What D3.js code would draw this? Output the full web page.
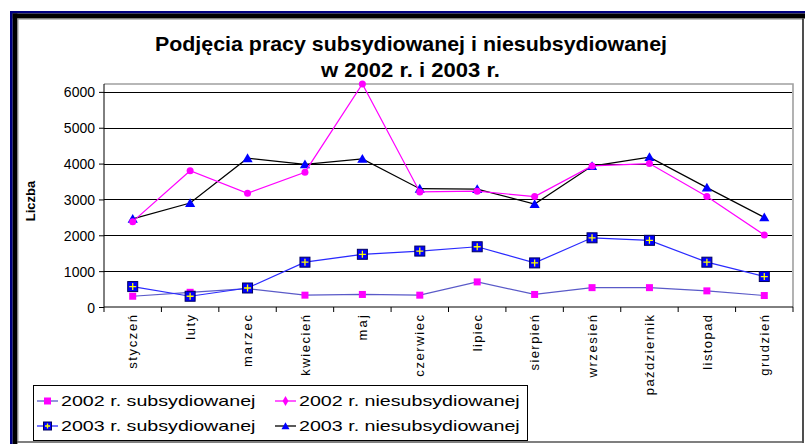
<!DOCTYPE html>
<html><head><meta charset="utf-8">
<script src="https://cdn.jsdelivr.net/npm/d3@7/dist/d3.min.js"></script>
<style>
html,body{margin:0;padding:0;background:#fff;}
svg{display:block;font-family:"Liberation Sans",Arial,sans-serif;}
</style></head>
<body>
<svg id="chart" width="805" height="444"></svg>
<script>
const months = ['styczeń','luty','marzec','kwiecień','maj','czerwiec','lipiec','sierpień','wrzesień','październik','listopad','grudzień'];
const sub2002 = [300,410,510,330,350,330,700,350,540,540,450,320];
const niesub2002 = [2380,3800,3170,3760,6220,3210,3230,3080,3935,4000,3080,2010];
const sub2003 = [570,300,530,1250,1470,1560,1680,1230,1930,1860,1250,850];
const niesub2003 = [2460,2900,4150,3980,4130,3300,3290,2870,3930,4180,3330,2500];
const yTicks = [0,1000,2000,3000,4000,5000,6000];
const titleLines = ['Podjęcia pracy subsydiowanej i niesubsydiowanej','w 2002 r. i 2003 r.'];
const yLabel = 'Liczba';
const seriesNames = ['2002 r. subsydiowanej','2002 r. niesubsydiowanej','2003 r. subsydiowanej','2003 r. niesubsydiowanej'];

const svg = d3.select('#chart');

// outer frame
svg.append('rect').attr('x',10).attr('y',11).attr('width',795).attr('height',2.5).attr('fill','#000080');
svg.append('rect').attr('x',10).attr('y',11).attr('width',2.7).attr('height',433).attr('fill','#000080');
svg.append('rect').attr('x',12.7).attr('y',13.5).attr('width',792.3).attr('height',5).attr('fill','#000');
svg.append('rect').attr('x',12.7).attr('y',13.5).attr('width',4.7).attr('height',430.5).attr('fill','#000');
svg.append('line').attr('x1',17.4).attr('x2',803).attr('y1',19).attr('y2',19).attr('stroke','#808080').attr('stroke-width',1);
svg.append('line').attr('x1',17.9).attr('x2',17.9).attr('y1',18.5).attr('y2',442).attr('stroke','#808080').attr('stroke-width',1);
svg.append('line').attr('x1',803).attr('x2',803).attr('y1',18.5).attr('y2',443).attr('stroke','#222',).attr('stroke-width',1.6);
svg.append('line').attr('x1',17).attr('x2',804).attr('y1',442).attr('y2',442).attr('stroke','#555').attr('stroke-width',1.6);

const x0 = 104, x1 = 793, yTop = 84, yBot = 307;
const x = d3.scaleBand().domain(months).range([x0,x1]).padding(0);
const y = d3.scaleLinear().domain([0,6220]).range([yBot,yTop]);
const cx = m => x(m) + x.bandwidth()/2;

// plot area border (top & right)
svg.append('path').attr('d',`M${x0},${yTop}H${x1}V${yBot}`).attr('fill','none').attr('stroke','#a0a0a0').attr('stroke-width',1.6);

// gridlines
svg.append('g').selectAll('line').data(yTicks.filter(t=>t>0)).join('line')
  .attr('x1',x0).attr('x2',x1-1).attr('y1',d=>Math.round(y(d))+0.5).attr('y2',d=>Math.round(y(d))+0.5)
  .attr('stroke','#000').attr('stroke-width',1.2);

// y axis
const yAxis = svg.append('g').attr('transform',`translate(${x0},0)`)
  .call(d3.axisLeft(y).tickValues(yTicks).tickSize(5).tickPadding(4).tickFormat(d3.format('d')));
yAxis.select('.domain').attr('d',`M-0,${yTop}V${yBot}`).attr('stroke','#000');
yAxis.selectAll('text').attr('font-size',14).attr('font-family','"Liberation Sans",Arial,sans-serif').attr('fill','#000').attr('dy','0.36em');
yAxis.selectAll('line').attr('stroke','#000');

// x axis
const xAxis = svg.append('g').attr('transform',`translate(0,${yBot})`);
xAxis.append('line').attr('x1',x0).attr('x2',x1).attr('y1',0).attr('y2',0).attr('stroke','#000');
const bounds = months.map(m=>x(m)).concat([x1]);
xAxis.selectAll('line.tk').data(bounds).join('line').attr('class','tk')
  .attr('x1',d=>d).attr('x2',d=>d).attr('y1',0).attr('y2',5).attr('stroke','#000');
const xl = xAxis.selectAll('text').data(months).join('text')
  .attr('transform',d=>`translate(${cx(d)},8) rotate(-90)`)
  .attr('text-anchor','end').attr('dy','0.36em')
  .attr('font-size',13).attr('fill','#000').text(d=>d);
xl.each(function(){ const L=this.getComputedTextLength(); d3.select(this).attr('textLength',L*1.22).attr('lengthAdjust','spacing'); });

// y label
svg.append('text').attr('transform','translate(35,201) rotate(-90)').attr('text-anchor','middle')
  .attr('font-size',13).attr('font-weight','bold').text(yLabel);

// title
svg.append('text').attr('x',411).attr('y',51).attr('text-anchor','middle').attr('font-size',21).attr('font-weight','bold')
  .attr('textLength',512).attr('lengthAdjust','spacingAndGlyphs').text(titleLines[0]);
svg.append('text').attr('x',410.5).attr('y',77).attr('text-anchor','middle').attr('font-size',21).attr('font-weight','bold')
  .attr('textLength',179).attr('lengthAdjust','spacingAndGlyphs').text(titleLines[1]);

// series
const series = [
  {name:seriesNames[0], values:sub2002, line:'#5a5ac8', marker:'sq'},
  {name:seriesNames[1], values:niesub2002, line:'#ff00ff', marker:'dot'},
  {name:seriesNames[2], values:sub2003, line:'#2a2aff', marker:'sqplus'},
  {name:seriesNames[3], values:niesub2003, line:'#000', marker:'tri'}
];
const lineGen = d3.line().x((d,i)=>cx(months[i])).y(d=>y(d));

function drawMarker(g, type, px, py, legend){
  if(type==='sq'){
    g.append('rect').attr('x',px-3.5).attr('y',py-3.5).attr('width',7).attr('height',7).attr('fill','#ff00ff');
  } else if(type==='dot'){
    if(legend){
      g.append('path').attr('d',d3.symbol(d3.symbolDiamond,30)()).attr('transform',`translate(${px},${py})`).attr('fill','#ff00ff');
    } else {
      g.append('circle').attr('cx',px).attr('cy',py).attr('r',3.5).attr('fill','#ff00ff');
    }
  } else if(type==='sqplus'){
    const s = legend?8:10;
    g.append('rect').attr('x',px-s/2).attr('y',py-s/2).attr('width',s).attr('height',s).attr('fill','#0000ff').attr('stroke','#000060').attr('stroke-width',1);
    const h = legend?2.5:3.5;
    g.append('path').attr('d',`M${px-h},${py}H${px+h}M${px},${py-h}V${py+h}`).attr('stroke','#ffff00').attr('stroke-width',1.3);
  } else if(type==='tri'){
    g.append('path').attr('d',d3.symbol(d3.symbolTriangle, legend?28:45)()).attr('transform',`translate(${px},${py+1})`).attr('fill','#0000ff');
  }
}

const order = [3,1,0,2];
order.forEach(k=>{
  const s = series[k];
  const g = svg.append('g');
  g.append('path').datum(s.values).attr('d',lineGen).attr('fill','none').attr('stroke',s.line).attr('stroke-width',1.2);
  s.values.forEach((v,i)=>drawMarker(g, s.marker, cx(months[i]), y(v), false));
});

// legend
const lg = svg.append('g');
lg.append('rect').attr('x',33.5).attr('y',385.5).attr('width',494).attr('height',55).attr('fill','#fff').attr('stroke','#000').attr('stroke-width',1);
const legPos = [[37,401],[275,401],[37,426],[275,426]];
series.forEach((s,k)=>{
  const [lx,ly] = legPos[k];
  lg.append('line').attr('x1',lx).attr('x2',lx+21).attr('y1',ly).attr('y2',ly).attr('stroke',s.line).attr('stroke-width',1.3);
  drawMarker(lg, s.marker, lx+10.5, ly, true);
  const t = lg.append('text').attr('x',lx+24).attr('y',ly).attr('dy','0.36em').attr('font-size',15).text(s.name);
  const L = t.node().getComputedTextLength();
  t.attr('textLength',L*1.31).attr('lengthAdjust','spacingAndGlyphs');
});
</script>
</body></html>
